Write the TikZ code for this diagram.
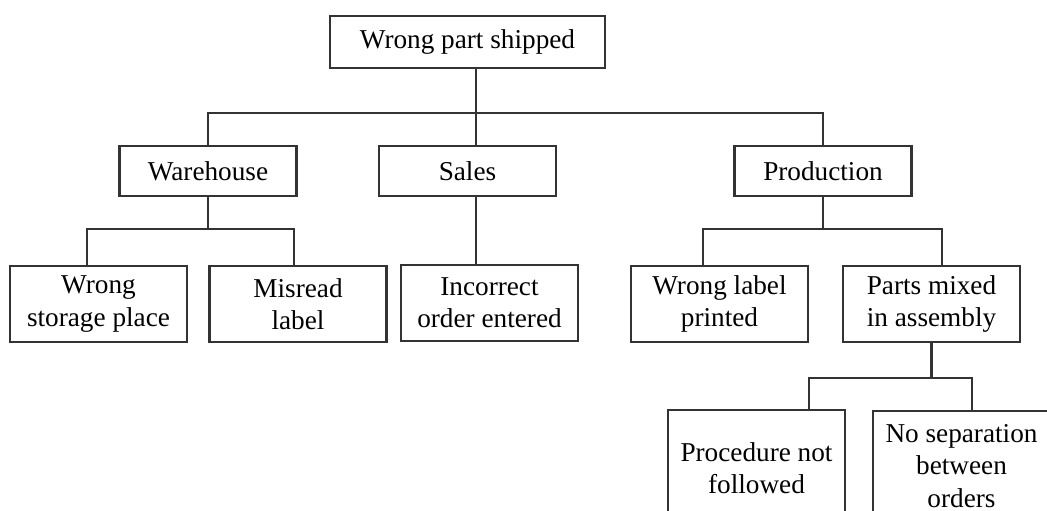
\documentclass[tikz,border=0pt]{standalone}
\usepackage{fontspec}
\setmainfont{Liberation Serif}
\usepackage{tikz}
\usetikzlibrary{positioning}

\begin{document}
\begin{tikzpicture}[x=0.02cm,y=-0.02cm,
		box/.style={draw=black!80, line width=1.6pt, fill=white, align=center, text=black,
			minimum width=177*0.02cm, minimum height=76*0.02cm, inner sep=0pt,
			font=\fontsize{15.5}{18.3}\selectfont},
		link/.style={draw=black!80, line width=1.6pt}]
		
			\useasboundingbox (0,0) rectangle (1047,510);
			
			\node[box, minimum width=275*0.02cm, minimum height=52*0.02cm] (top) at (467.5,42) {Wrong part shipped};
			
			\node[box, minimum height=50*0.02cm] (wh) at (208,171) {Warehouse};
			\node[box, minimum height=50*0.02cm] (sales) at (467.5,171) {Sales};
			\node[box, minimum height=50*0.02cm] (prod) at (823,171) {Production};
			
			\node[box] (storage) at (98.5,304) {Wrong\\storage place};
			\node[box] (misread) at (298,304) {Misread\\label};
			\node[box] (incorrect) at (489.5,303) {Incorrect\\order entered};
			\node[box] (wlabel) at (719.5,304) {Wrong label\\printed};
			\node[box] (mixed) at (931.5,304) {Parts mixed\\in assembly};
			
			\node[box, minimum height=116*0.02cm] (proc) at (756.5,468) {Procedure not\\followed};
			\node[box, minimum height=110*0.02cm] (nosep) at (961.5,466) {No separation\\between\\orders};
			
			\coordinate (sx) at (476,0);
			\coordinate (j0) at (476,113);
			\coordinate (wA) at (87,229);
			\coordinate (wB) at (294,229);
			\coordinate (pA) at (703,229);
			\coordinate (pB) at (942,229);
			\coordinate (mA) at (809,378);
			\coordinate (mB) at (972,378);
			
			\draw[link] (top.south -| sx) -- (sales.north -| sx);
			\draw[link] (wh.north) |- (j0) -| (prod.north);
			\draw[link] (sales.south -| sx) -- (incorrect.north -| sx);
			
			\draw[link] (wh.south) -- (wh.south |- wA);
			\draw[link] (storage.north -| wA) -- (wA) -- (wB) -- (misread.north -| wB);
			
			\draw[link] (prod.south) -- (prod.south |- pA);
			\draw[link] (wlabel.north -| pA) -- (pA) -- (pB) -- (mixed.north -| pB);
			
			\draw[link] (mixed.south) -- (mixed.south |- mA);
			\draw[link] (proc.north -| mA) -- (mA) -- (mB) -- (nosep.north -| mB);
			
		\end{tikzpicture}
\end{document}
